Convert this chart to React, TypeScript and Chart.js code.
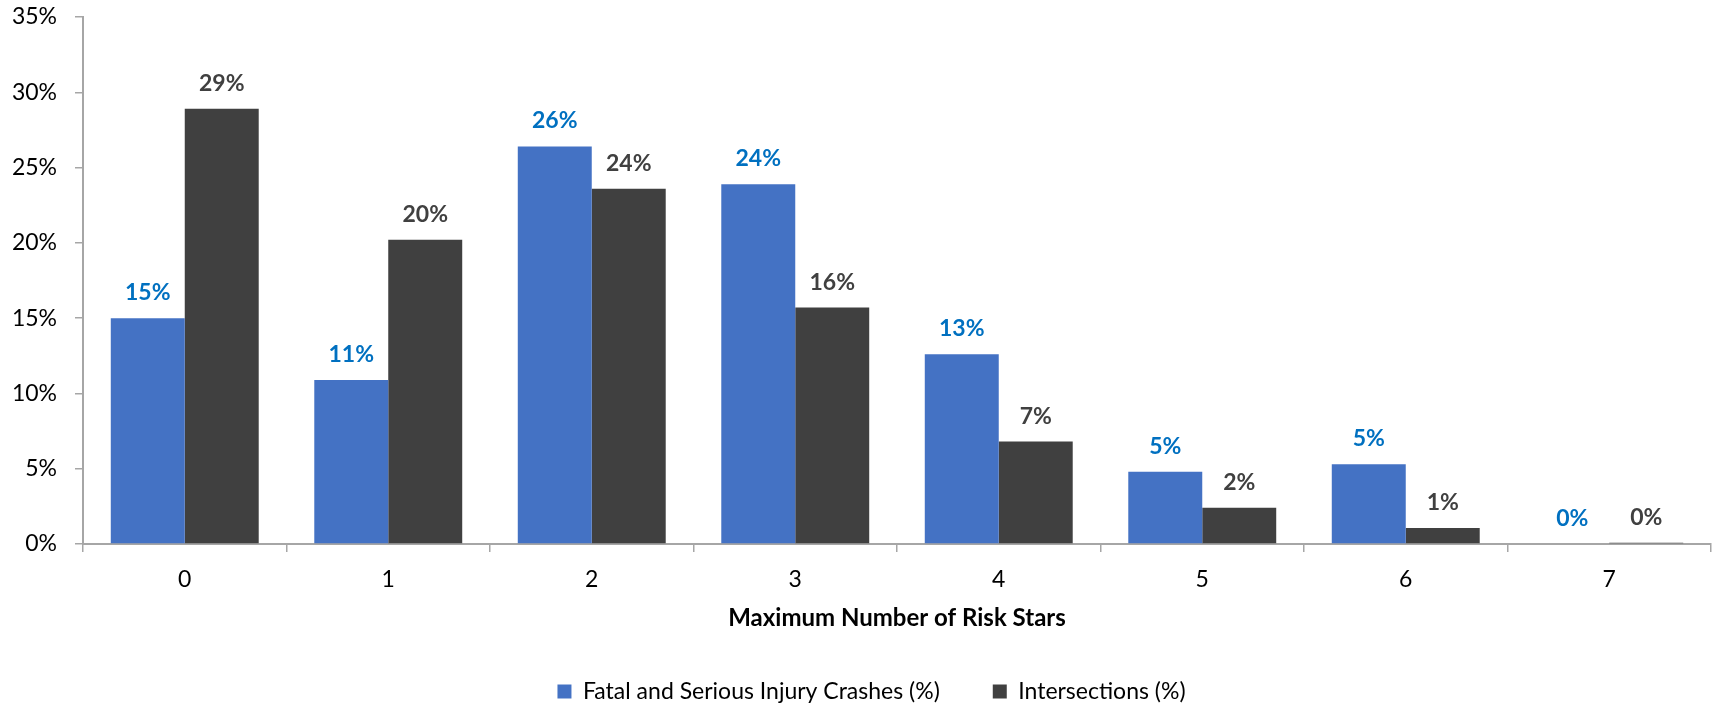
import React, { useEffect, useRef } from "react";
import { Chart, registerables } from "chart.js";

Chart.register(...registerables);

const categories = ["0", "1", "2", "3", "4", "5", "6", "7"];
const crashesPct = [15.0, 10.9, 26.4, 23.9, 12.6, 4.8, 5.3, 0];
const intersectionsPct = [28.9, 20.2, 23.6, 15.7, 6.8, 2.4, 1.06, 0.08];
const seriesNames = ["Fatal and Serious Injury Crashes (%)", "Intersections (%)"];
const xTitle = "Maximum Number of Risk Stars";
const yMax = 35;
const yStep = 5;

const FONT = "Lato, Carlito, Calibri, sans-serif";
const FS = 23;
const BLUE = "#4472C4";
const DARK = "#404040";
const BLUE_LABEL = "#0070C0";
const AXIS = "#A6A6A6";

const dataLabelPlugin = {
  id: "dataLabels",
  afterDatasetsDraw(chart: any) {
    const ctx = chart.ctx;
    const colors = [BLUE_LABEL, DARK];
    ctx.save();
    ctx.font = `bold ${FS}px ${FONT}`;
    ctx.textAlign = "center";
    ctx.textBaseline = "alphabetic";
    chart.data.datasets.forEach((ds: any, di: number) => {
      const meta = chart.getDatasetMeta(di);
      ctx.fillStyle = colors[di];
      meta.data.forEach((bar: any, i: number) => {
        const v = ds.data[i];
        ctx.fillText(Math.round(v) + "%", bar.x, bar.y - 18);
      });
    });
    ctx.restore();
  },
};

const legendShiftPlugin = {
  id: "legendShift",
  afterLayout(chart: any) {
    const lg = chart.legend;
    if (!lg) return;
    lg.left += 16;
    lg.right += 16;
  },
};

export default function App() {
  const ref = useRef<HTMLCanvasElement | null>(null);

  useEffect(() => {
    if (!ref.current) return;
    Chart.defaults.font.family = FONT;
    const chart = new Chart(ref.current, {
      type: "bar",
      data: {
        labels: categories,
        datasets: [
          {
            label: seriesNames[0],
            data: crashesPct,
            backgroundColor: BLUE,
            categoryPercentage: 0.727,
            barPercentage: 1,
          },
          {
            label: seriesNames[1],
            data: intersectionsPct,
            backgroundColor: DARK,
            categoryPercentage: 0.727,
            barPercentage: 1,
          },
        ],
      },
      options: {
        animation: false,
        responsive: true,
        maintainAspectRatio: false,
        layout: { padding: { top: 17, right: 2, left: 0, bottom: -7 } },
        plugins: {
          tooltip: { enabled: false },
          legend: {
            position: "bottom",
            labels: {
              boxWidth: 14,
              boxHeight: 14,
              padding: 53,
              color: "#000",
              font: { size: FS, family: FONT },
            },
          },
        },
        scales: {
          x: {
            grid: {
              display: true,
              drawOnChartArea: false,
              drawTicks: true,
              tickLength: 8,
              color: AXIS,
              lineWidth: 1.5,
            },
            border: { display: true, color: AXIS, width: 2 },
            ticks: { color: "#000", font: { size: FS, family: FONT }, padding: 14 },
            title: {
              display: true,
              text: xTitle,
              color: "#000",
              font: { size: 24, weight: "bold", family: FONT, lineHeight: 1 },
              padding: { top: 0, bottom: -3 },
            },
            afterFit(scale: any) {
              scale.height = 83;
            },
          },
          y: {
            min: 0,
            max: yMax,
            grid: {
              display: true,
              drawOnChartArea: false,
              drawTicks: true,
              tickLength: 8,
              color: AXIS,
              lineWidth: 1.5,
            },
            border: { display: true, color: AXIS, width: 2 },
            ticks: {
              stepSize: yStep,
              color: "#000",
              font: { size: FS, family: FONT },
              padding: 18,
              callback: (v: any) => v + "%",
            },
            afterFit(scale: any) {
              scale.width = 83;
              scale.paddingTop = 0;
              scale.paddingBottom = 0;
            },
          },
        },
      },
      plugins: [dataLabelPlugin, legendShiftPlugin],
    });
    return () => chart.destroy();
  }, []);

  return (
    <div style={{ position: "fixed", left: 0, top: 0, width: 1713, height: 706, background: "#fff" }}>
      <canvas ref={ref} />
    </div>
  );
}
